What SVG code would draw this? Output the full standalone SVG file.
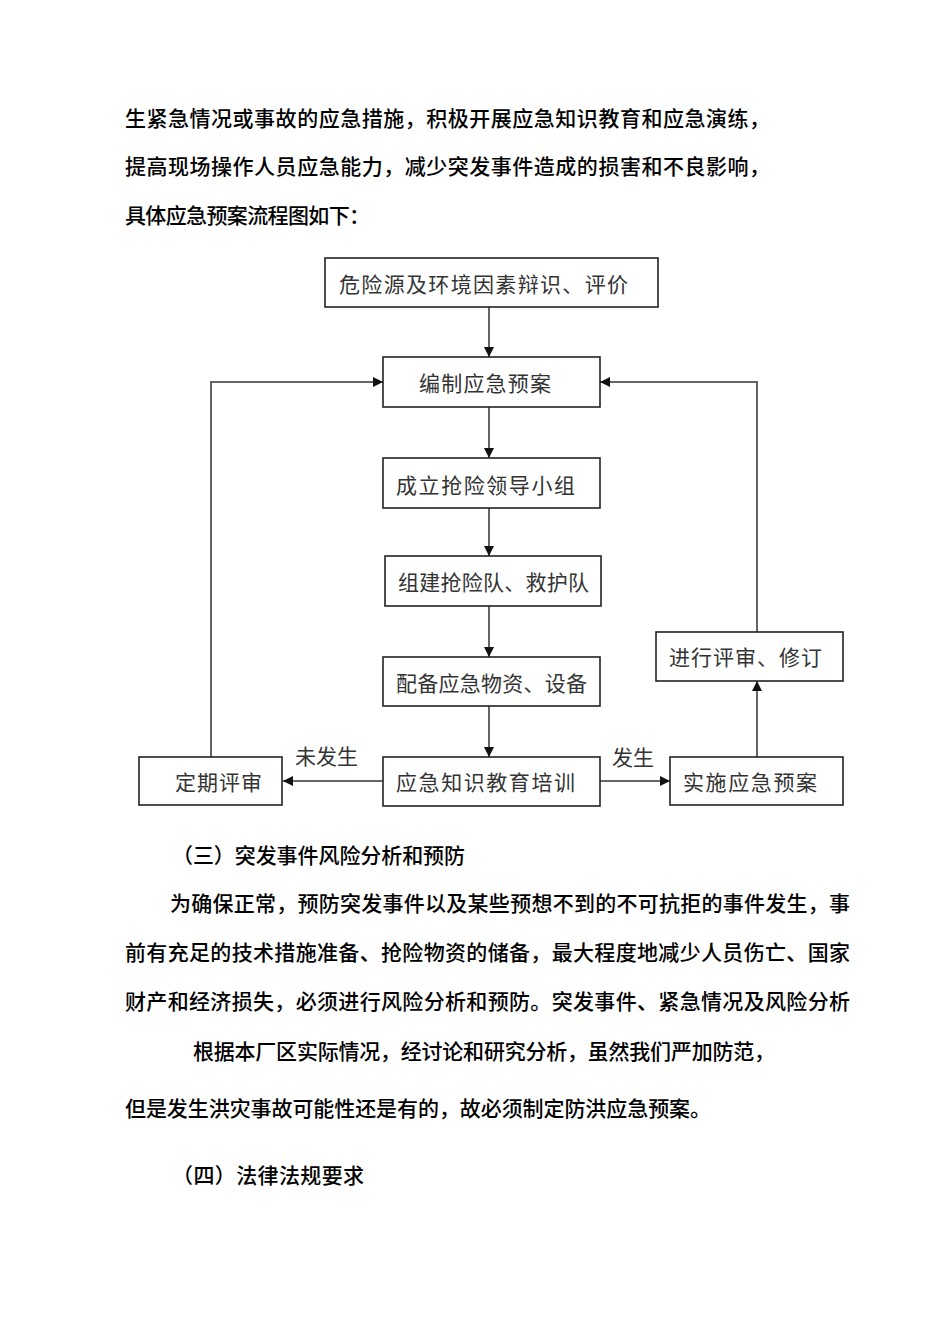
<svg xmlns="http://www.w3.org/2000/svg" width="950" height="1344" viewBox="0 0 950 1344">
<style>
.body{font-family:"Noto Sans CJK SC","Noto Sans",sans-serif;font-size:21px;fill:#000;font-weight:500;}
.box{fill:#fff;stroke:#222;stroke-width:1.6;}
.lbl{font-family:"Noto Sans CJK SC","Noto Sans",sans-serif;font-size:21px;fill:#333;font-weight:400;}
.ln{fill:none;stroke:#333;stroke-width:1.5;}
</style>
<defs>
<marker id="ah" viewBox="0 0 10 10" refX="10" refY="5" markerWidth="10" markerHeight="10" markerUnits="userSpaceOnUse" orient="auto">
<path d="M0,0 L10,5 L0,10 z" fill="#111"/>
</marker>
</defs>
<rect width="950" height="1344" fill="#fff"/>
<g id="body-text">
<text class="body" x="125" y="126" textLength="645" lengthAdjust="spacing">生紧急情况或事故的应急措施，积极开展应急知识教育和应急演练，</text>
<text class="body" x="125" y="174" textLength="645" lengthAdjust="spacing">提高现场操作人员应急能力，减少突发事件造成的损害和不良影响，</text>
<text class="body" x="125" y="223" textLength="245" lengthAdjust="spacing">具体应急预案流程图如下：</text>
<text class="body" x="172" y="863" textLength="293" lengthAdjust="spacing">（三）突发事件风险分析和预防</text>
<text class="body" x="170" y="911" textLength="680" lengthAdjust="spacing">为确保正常，预防突发事件以及某些预想不到的不可抗拒的事件发生，事</text>
<text class="body" x="125" y="960" textLength="725" lengthAdjust="spacing">前有充足的技术措施准备、抢险物资的储备，最大程度地减少人员伤亡、国家</text>
<text class="body" x="125" y="1009" textLength="725" lengthAdjust="spacing">财产和经济损失，必须进行风险分析和预防。突发事件、紧急情况及风险分析</text>
<text class="body" x="193" y="1059" textLength="582" lengthAdjust="spacing">根据本厂区实际情况，经讨论和研究分析，虽然我们严加防范，</text>
<text class="body" x="125" y="1116" textLength="586" lengthAdjust="spacing">但是发生洪灾事故可能性还是有的，故必须制定防洪应急预案。</text>
<text class="body" x="172" y="1183" textLength="192" lengthAdjust="spacing">（四）法律法规要求</text>
</g>
<g id="connectors">
<line class="ln" x1="489" y1="307" x2="489" y2="357" marker-end="url(#ah)"/>
<line class="ln" x1="489" y1="407" x2="489" y2="458" marker-end="url(#ah)"/>
<line class="ln" x1="489" y1="508" x2="489" y2="556" marker-end="url(#ah)"/>
<line class="ln" x1="489" y1="606" x2="489" y2="657" marker-end="url(#ah)"/>
<line class="ln" x1="489" y1="706" x2="489" y2="757" marker-end="url(#ah)"/>
<line class="ln" x1="383" y1="781" x2="283" y2="781" stroke-width="2" marker-end="url(#ah)"/>
<line class="ln" x1="600" y1="781" x2="670" y2="781" stroke-width="2" marker-end="url(#ah)"/>
<line class="ln" x1="757" y1="757" x2="757" y2="681" marker-end="url(#ah)"/>
<polyline class="ln" points="211,757 211,382 383,382" marker-end="url(#ah)"/>
<polyline class="ln" points="757,632 757,382 600,382" marker-end="url(#ah)"/>
<text class="lbl" x="295" y="764">未发生</text>
<text class="lbl" x="612" y="765">发生</text>
</g>
<g id="n1"><rect class="box" x="325" y="258" width="333" height="49"/><text class="lbl" x="339" y="292" textLength="289" lengthAdjust="spacing">危险源及环境因素辩识、评价</text></g>
<g id="n2"><rect class="box" x="383" y="357" width="217" height="50"/><text class="lbl" x="419" y="391" textLength="132" lengthAdjust="spacing">编制应急预案</text></g>
<g id="n3"><rect class="box" x="383" y="458" width="217" height="50"/><text class="lbl" x="396" y="493" textLength="179" lengthAdjust="spacing">成立抢险领导小组</text></g>
<g id="n4"><rect class="box" x="385" y="556" width="216" height="50"/><text class="lbl" x="398" y="590" textLength="191" lengthAdjust="spacing">组建抢险队、救护队</text></g>
<g id="n5"><rect class="box" x="383" y="657" width="217" height="49"/><text class="lbl" x="396" y="691" textLength="191" lengthAdjust="spacing">配备应急物资、设备</text></g>
<g id="n6"><rect class="box" x="383" y="757" width="217" height="49"/><text class="lbl" x="396" y="790" textLength="179" lengthAdjust="spacing">应急知识教育培训</text></g>
<g id="n7"><rect class="box" x="139" y="757" width="143" height="48"/><text class="lbl" x="175" y="790" textLength="87" lengthAdjust="spacing">定期评审</text></g>
<g id="n8"><rect class="box" x="670" y="757" width="173" height="48"/><text class="lbl" x="683" y="790" textLength="134" lengthAdjust="spacing">实施应急预案</text></g>
<g id="n9"><rect class="box" x="656" y="632" width="187" height="49"/><text class="lbl" x="669" y="665" textLength="153" lengthAdjust="spacing">进行评审、修订</text></g>
</svg>
